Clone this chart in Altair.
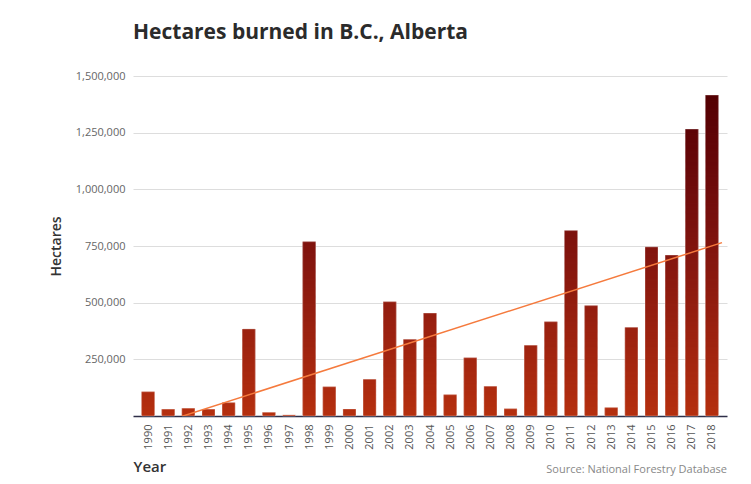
import altair as alt
import pandas as pd

years = list(range(1990, 2019))
hectares = [107000, 30000, 34000, 30000, 59000, 384000, 16000, 5000, 769000, 129000,
            31000, 162000, 504000, 338000, 454000, 94000, 257000, 131000, 32000, 312000,
            416000, 818000, 487000, 37000, 391000, 746000, 710000, 1266000, 1416000]
y_ticks = [250000, 500000, 750000, 1000000, 1250000, 1500000]
title_text = "Hectares burned in B.C., Alberta"
source_text = "Source: National Forestry Database"

df = pd.DataFrame({"year": years, "value": hectares})

# thin stacked segments so the fill darkens with height (vertical gradient in value space)
step = 5000
rows = []
for yr, v in zip(years, hectares):
    lo = 0
    while lo < v:
        hi = min(lo + step, v)
        rows.append({"year": yr, "lo": lo, "hi": min(hi + step, v), "mid": (lo + hi) / 2})
        lo = hi
seg = pd.DataFrame(rows)

font = "Open Sans"
xscale = alt.Scale(domain=[1989.5, 2018.5], nice=False, zero=False)
yscale = alt.Scale(domain=[0, 1500000], nice=False)

xaxis = alt.Axis(values=years, format="d", labelAngle=-90, ticks=False,
                 grid=False, domainColor="#2f2f48", domainWidth=1.5,
                 labelPadding=8, labelFont=font, labelFontSize=11,
                 labelColor="#555555", labelOverlap=False, labelFlush=False,
                 labelBound=False, title="Year", titleFont=font,
                 titleFontSize=15, titleFontWeight=600, titleColor="#333333",
                 titleAnchor="start", titlePadding=10)
yaxis = alt.Axis(values=y_ticks, format=",d", domain=False, ticks=False,
                 grid=True, gridColor="#dddddd", gridWidth=1,
                 labelPadding=8, labelFont=font, labelFontSize=11,
                 labelColor="#666666", title="Hectares", titleFont=font,
                 titleFontSize=14, titleFontWeight=600, titleColor="#333333",
                 titlePadding=12)

bars = alt.Chart(seg).mark_bar(width=13, strokeWidth=0).encode(
    x=alt.X("year:Q", scale=xscale, axis=xaxis),
    y=alt.Y("lo:Q", scale=yscale, axis=yaxis),
    y2="hi:Q",
    color=alt.Color("mid:Q", scale=alt.Scale(domain=[0, 1500000],
                                             range=["#b5300f", "#4e0000"]), legend=None),
)

outline = alt.Chart(df).mark_bar(width=13, fillOpacity=0, stroke="#ffffff",
                                 strokeOpacity=0.3, strokeWidth=1).encode(
    x=alt.X("year:Q", scale=xscale, axis=xaxis),
    y=alt.Y("value:Q", scale=yscale, axis=yaxis),
)

trend = alt.Chart(df).transform_regression(
    "year", "value", extent=[1989.5, 2018.5]
).mark_line(clip=True, color="#f57a3d", strokeWidth=1.5).encode(
    x=alt.X("year:Q", scale=xscale, axis=xaxis),
    y=alt.Y("value:Q", scale=yscale, axis=yaxis),
)

source = alt.Chart(pd.DataFrame({"t": [source_text]})).mark_text(
    align="right", baseline="middle", font=font, fontSize=11, color="#888888"
).encode(x=alt.value(594), y=alt.value(394), text="t:N")

chart = alt.layer(bars, outline, trend, source).properties(
    width=594, height=340,
    title=alt.TitleParams(title_text, anchor="start", frame="group", font=font,
                          fontSize=21, fontWeight="bold", color="#2b2b2b", offset=27),
    padding={"left": 125, "top": 68, "right": 16, "bottom": 60},
    autosize=alt.AutoSizeParams(type="none"),
).configure_view(stroke=None).configure_axis(labelOverlap=False)

chart.save("out.html", embed_options={"renderer": "svg", "actions": False})
